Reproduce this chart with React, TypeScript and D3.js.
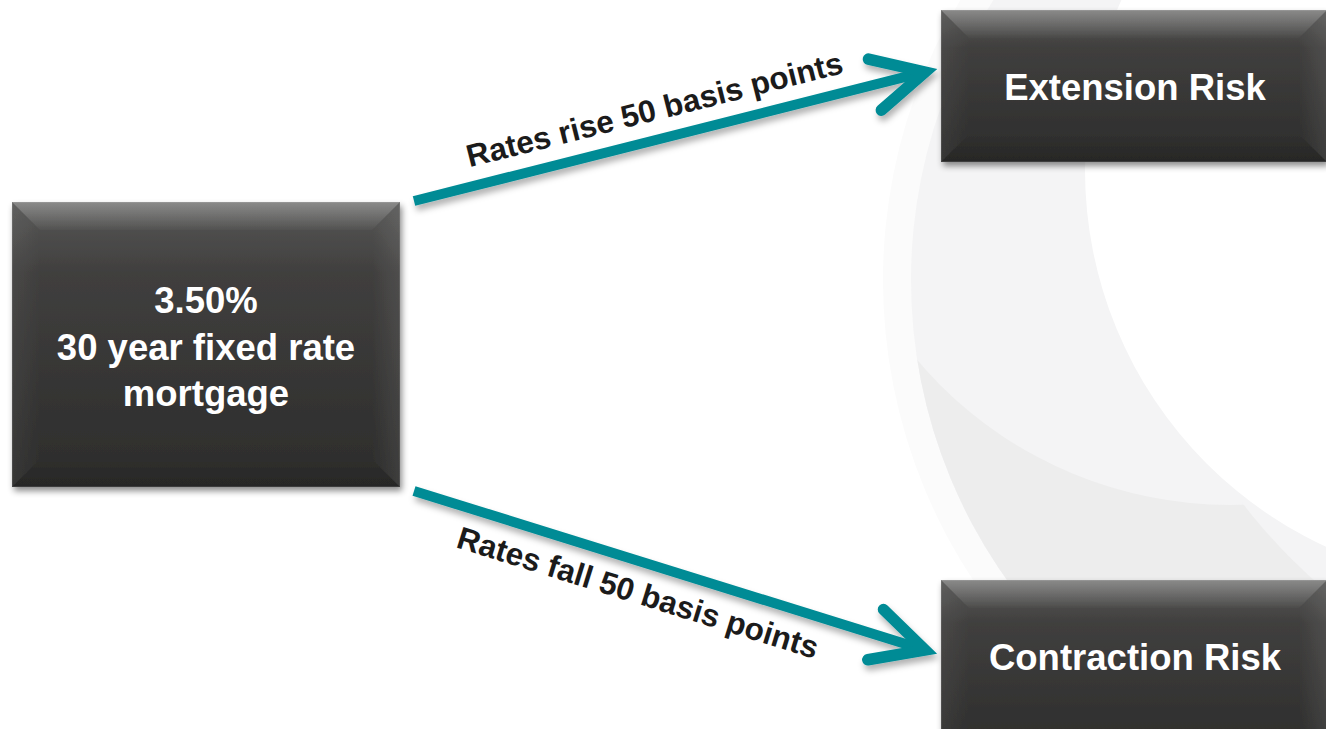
import React from 'react';
import * as d3 from 'd3';

// ---- Content ----
const sourceLines: string[] = ["3.50%", "30 year fixed rate", "mortgage"];
const targetLabels: string[] = ["Extension Risk", "Contraction Risk"];
const arrowLabels: string[] = ["Rates rise 50 basis points", "Rates fall 50 basis points"];

const W = 1326;
const H = 729;

type Box = { x: number; y: number; w: number; h: number };

const FONT = "'Liberation Sans', Arial, Helvetica, sans-serif";
const TEAL = '#018b95';

function BevelBox({ b }: { b: Box }) {
  const s = 28;
  const { x, y, w, h } = b;
  const poly = (pts: [number, number][]) => (d3.line()(pts) as string) + 'Z';
  return (
    <g filter="url(#boxShadow)">
      <rect x={x} y={y} width={w} height={h} fill="url(#faceGrad)" />
      <path d={poly([[x, y], [x + w, y], [x + w - s, y + s], [x + s, y + s]])} fill="url(#topBevel)" />
      <path d={poly([[x, y], [x + s, y + s], [x + s, y + h - s], [x, y + h]])} fill="url(#leftBevel)" />
      <path d={poly([[x + w, y], [x + w, y + h], [x + w - s, y + h - s], [x + w - s, y + s]])} fill="url(#rightBevel)" />
      <path d={poly([[x, y + h], [x + s, y + h - s], [x + w - s, y + h - s], [x + w, y + h]])} fill="url(#bottomBevel)" />
      <rect x={x + 0.5} y={y + 0.5} width={w - 1} height={h - 1} fill="none" stroke="rgba(255,255,255,0.1)" />
    </g>
  );
}

type Arrow = { start: [number, number]; tip: [number, number]; t: number; off: number; label: string };

function ArrowMark({ a }: { a: Arrow }) {
  const [x0, y0] = a.start;
  const [x1, y1] = a.tip;
  const theta = Math.atan2(y1 - y0, x1 - x0);
  const headLen = 58;
  const half = (27 * Math.PI) / 180;
  const back = theta + Math.PI;
  const arm1: [number, number] = [x1 + headLen * Math.cos(back - half), y1 + headLen * Math.sin(back - half)];
  const arm2: [number, number] = [x1 + headLen * Math.cos(back + half), y1 + headLen * Math.sin(back + half)];
  const shaftEnd: [number, number] = [x1 - 6 * Math.cos(theta), y1 - 6 * Math.sin(theta)];
  const line = d3.line();
  const px = x0 + a.t * (x1 - x0);
  const py = y0 + a.t * (y1 - y0);
  const deg = (theta * 180) / Math.PI;
  return (
    <g>
      <g filter="url(#arrowShadow)">
        <path d={line([a.start, shaftEnd]) as string} stroke={TEAL} strokeWidth={10} fill="none" strokeLinecap="butt" />
        <path d={line([arm1, [x1, y1], arm2]) as string} stroke={TEAL} strokeWidth={11.5} fill="none" strokeLinecap="round" strokeLinejoin="miter" strokeMiterlimit={10} />
      </g>
      <text
        transform={`translate(${px},${py}) rotate(${deg})`}
        x={0}
        y={a.off}
        textAnchor="middle"
        fontFamily={FONT}
        fontWeight="bold"
        fontSize={31.5}
        fill="#1b1b1b"
      >
        {a.label}
      </text>
    </g>
  );
}

export default function App() {
  const source: Box = { x: 12, y: 202, w: 388, h: 285 };
  const targets: Box[] = [
    { x: 941, y: 10, w: 386, h: 152 },
    { x: 941, y: 580, w: 386, h: 175 },
  ];
  const arrows: Arrow[] = [
    { start: [414, 201], tip: [925, 72], t: 0.485, off: -19, label: arrowLabels[0] },
    { start: [414, 491], tip: [925, 650], t: 0.456, off: 41.3, label: arrowLabels[1] },
  ];
  const lineGap = 46.5;
  const srcBaseline = 313;
  const targetBaselines = [100, 670];

  // background arcs
  const bgOuter = { cx: 1428, cy: 280, r: 545 };
  const bgA = { cx: 1428, cy: 280, r: 517 };
  const bgC = { cx: 1230, cy: 95, r: 410 };
  const bgD = { cx: 1700, cy: 150, r: 578 };
  const bgB = { cx: 1500, cy: 170, r: 415 };
  const circlePath = (c: { cx: number; cy: number; r: number }) => {
    const p = d3.path();
    p.moveTo(c.cx + c.r, c.cy);
    p.arc(c.cx, c.cy, c.r, 0, 2 * Math.PI);
    p.closePath();
    return p.toString();
  };

  return (
    <svg
      width={W}
      height={H}
      viewBox={`0 0 ${W} ${H}`}
      style={{ position: 'fixed', left: 0, top: 0, display: 'block', background: '#fff' }}
    >
      <defs>
        <linearGradient id="faceGrad" x1="0" y1="0" x2="0" y2="1">
          <stop offset="0" stopColor="#585857" />
          <stop offset="0.25" stopColor="#403f3e" />
          <stop offset="1" stopColor="#2c2c2b" />
        </linearGradient>
        <linearGradient id="topBevel" x1="0" y1="0" x2="0" y2="1">
          <stop offset="0" stopColor="#ffffff" stopOpacity={0.3} />
          <stop offset="1" stopColor="#ffffff" stopOpacity={0.02} />
        </linearGradient>
        <linearGradient id="leftBevel" x1="0" y1="0" x2="1" y2="0">
          <stop offset="0" stopColor="#ffffff" stopOpacity={0.05} />
          <stop offset="1" stopColor="#ffffff" stopOpacity={0.0} />
        </linearGradient>
        <linearGradient id="rightBevel" x1="0" y1="0" x2="1" y2="0">
          <stop offset="0" stopColor="#ffffff" stopOpacity={0.0} />
          <stop offset="1" stopColor="#ffffff" stopOpacity={0.08} />
        </linearGradient>
        <linearGradient id="bottomBevel" x1="0" y1="0" x2="0" y2="1">
          <stop offset="0" stopColor="#000000" stopOpacity={0.0} />
          <stop offset="1" stopColor="#000000" stopOpacity={0.12} />
        </linearGradient>
        <filter id="boxShadow" x="-10%" y="-10%" width="125%" height="130%">
          <feDropShadow dx={2} dy={4} stdDeviation={3} floodColor="#000" floodOpacity={0.45} />
        </filter>
        <filter id="arrowShadow" x="-10%" y="-30%" width="125%" height="170%">
          <feDropShadow dx={2} dy={5} stdDeviation={3} floodColor="#000" floodOpacity={0.3} />
        </filter>
        <clipPath id="clipA">
          <circle cx={bgA.cx} cy={bgA.cy} r={bgA.r} />
        </clipPath>
      </defs>

      <rect x={0} y={0} width={W} height={H} fill="#ffffff" />
      <circle cx={bgOuter.cx} cy={bgOuter.cy} r={bgOuter.r} fill="#fbfbfb" />
      <circle cx={bgA.cx} cy={bgA.cy} r={bgA.r} fill="#f4f4f5" />
      <g clipPath="url(#clipA)">
        <path d={`M0,0H${W}V${H}H0Z` + circlePath(bgC)} fill="#ededed" fillRule="evenodd" />
        <circle cx={bgD.cx} cy={bgD.cy} r={bgD.r} fill="#f4f4f5" />
      </g>
      <circle cx={bgB.cx} cy={bgB.cy} r={bgB.r} fill="#ffffff" />

      {arrows.map((a, i) => (
        <ArrowMark key={i} a={a} />
      ))}

      <BevelBox b={source} />
      {sourceLines.map((t, i) => (
        <text
          key={i}
          x={source.x + source.w / 2}
          y={srcBaseline + i * lineGap}
          textAnchor="middle"
          fontFamily={FONT}
          fontWeight="bold"
          fontSize={36.5}
          fill="#ffffff"
        >
          {t}
        </text>
      ))}

      {targets.map((b, i) => (
        <g key={i}>
          <BevelBox b={b} />
          <text
            x={b.x + b.w / 2 + 1}
            y={targetBaselines[i]}
            textAnchor="middle"
            fontFamily={FONT}
            fontWeight="bold"
            fontSize={36.5}
            fill="#ffffff"
          >
            {targetLabels[i]}
          </text>
        </g>
      ))}
    </svg>
  );
}
